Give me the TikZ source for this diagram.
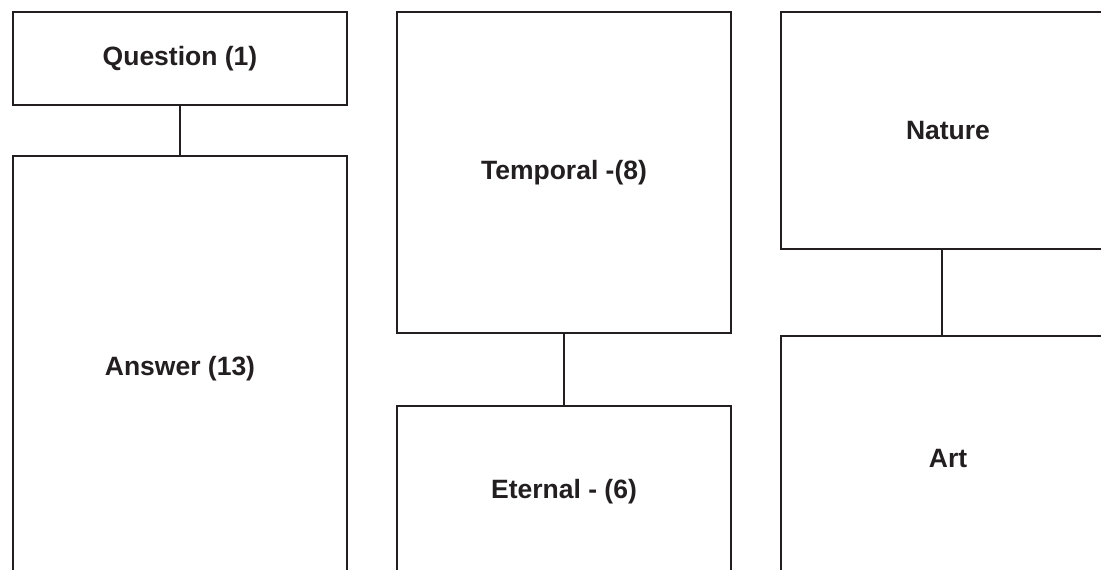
\documentclass[tikz,border=0pt]{standalone}
\usepackage{fontspec}
\setmainfont{Liberation Sans}
\definecolor{ink}{HTML}{231F20}
\begin{document}
\begin{tikzpicture}[x=1pt,y=-1pt,
  box/.style={draw=ink, line width=1.8pt, rectangle, inner sep=0pt,
    font=\fontsize{26.5}{31}\selectfont\bfseries, text=ink},
  link/.style={draw=ink, line width=1.8pt}]
\useasboundingbox (0,0) rectangle (1101,570);
\clip (0,0) rectangle (1101,570);
\fill[white] (0,0) rectangle (1101,570);
% left column
\node[box, minimum width=334pt, minimum height=93pt] (q) at (180,58.5) {Question (1)};
\node[box, minimum width=334pt, minimum height=426pt] (ans) at (180,369) {Answer (13)};
% middle column
\node[box, minimum width=334pt, minimum height=321pt] (tem) at (564,172.5) {Temporal -(8)};
\node[box, minimum width=334pt, minimum height=172pt] (ete) at (564,492) {Eternal - (6)};
% right column
\node[box, minimum width=334pt, minimum height=237pt] (nat) at (948,130.5) {Nature};
\node[box, minimum width=334pt, minimum height=244pt] (art) at (948,458) {Art};
% connectors
\draw[link] (q.south) -- (ans.north);
\draw[link] (tem.south) -- (ete.north);
\draw[link] ([xshift=-6pt]nat.south) -- ([xshift=-6pt]art.north);
\end{tikzpicture}
\end{document}
